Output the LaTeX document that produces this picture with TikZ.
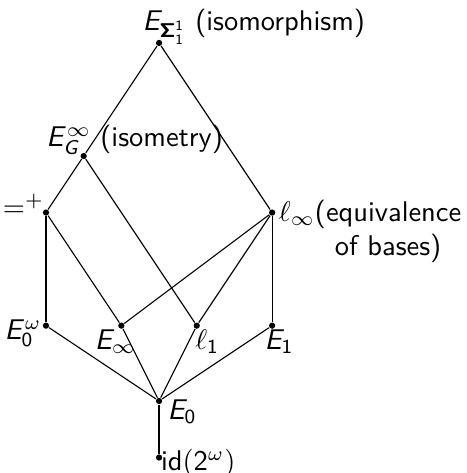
\documentclass[tikz,border=0pt]{standalone}
\DeclareMathAlphabet{\mathsfit}{OT1}{cmss}{m}{sl}
\DeclareMathAlphabet{\mathsfbf}{OT1}{cmss}{bx}{n}
\begin{document}
\begin{tikzpicture}[x=0.465cm, y=0.465cm, font=\sffamily,
		dot/.style={circle, fill=black, inner sep=0pt, minimum size=2.2pt},
		lbl/.style={inner sep=0pt}]
		\useasboundingbox (-4.22,-1.91) rectangle (8.17,10.64);
		
		% 顶点
		\node[dot] (iso) at (0,9.5) {};
		\node[dot] (isom) at (-2,6.5) {};
		\node[dot] (eqp) at (-3,5) {};
		\node[dot] (equiv) at (3,5) {};
		\node[dot] (ezw) at (-3,2) {};
		\node[dot] (einf) at (-1,2) {};
		\node[dot] (lone) at (1,2) {};
		\node[dot] (eone) at (3,2) {};
		\node[dot] (ezero) at (0,0) {};
		\node[dot] (idn) at (0,-1.5) {};
		
		% 连线
		\draw (iso) -- (isom);
		\draw (iso) -- (equiv);
		\draw (isom) -- (eqp);
		\draw (isom) -- (lone);
		\draw (eqp) -- (ezw);
		\draw (eqp) -- (einf);
		\draw (equiv) -- (einf);
		\draw (equiv) -- (lone);
		\draw (equiv) -- (eone);
		\draw (ezw) -- (ezero);
		\draw (einf) -- (ezero);
		\draw (lone) -- (ezero);
		\draw (eone) -- (ezero);
		\draw (ezero) -- (idn);
		
		% 标签
		\node[lbl, anchor=base west, xshift=-6pt, yshift=4.2pt] (isoL) at (iso)
			{$\mathsfit{E}_{\mathsfbf{\Sigma}^{\mathsf{1}}_{\mathsf{1}}}$ (isomorphism)};
		\node[lbl, anchor=base west, xshift=-13.3pt, yshift=3.2pt] (isomL) at (isom)
			{$\mathsfit{E}^{\infty}_{\mathsfit{G}}$ (isometry)};
		\node[lbl, anchor=base east, xshift=-0.5pt, yshift=-1.4pt] (eqpL) at (eqp) {$=^{+}$};
		\node[lbl, anchor=base west, xshift=2.2pt, yshift=-3.2pt] (equivL) at (equiv)
			{$\ell_\infty$\begin{tabular}[t]{@{}c@{}}(equivalence\\of bases)\end{tabular}};
		\node[lbl, anchor=base east, xshift=-1.4pt, yshift=-4.9pt] (ezwL) at (ezw)
			{$\mathsfit{E}^{\omega}_{\mathsf{0}}$};
		\node[lbl, anchor=base west, xshift=-9.5pt, yshift=-8.4pt] (einfL) at (einf)
			{$\mathsfit{E}_{\infty}$};
		\node[lbl, anchor=base west, xshift=-0.7pt, yshift=-8.4pt] (loneL) at (lone)
			{$\ell_{\mathsf{1}}$};
		\node[lbl, anchor=base west, xshift=-2.8pt, yshift=-8.4pt] (eoneL) at (eone)
			{$\mathsfit{E}_{\mathsf{1}}$};
		\node[lbl, anchor=base west, xshift=2.8pt, yshift=-6.5pt] (ezeroL) at (ezero)
			{$\mathsfit{E}_{\mathsf{0}}$};
		\node[lbl, anchor=west, xshift=0.5pt, yshift=-2pt] (idnL) at (idn)
			{id$(\mathsf{2}^{\omega})$};
	\end{tikzpicture}
\end{document}
